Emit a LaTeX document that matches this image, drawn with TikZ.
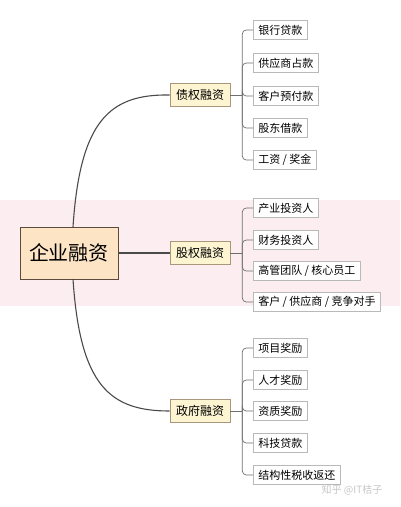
\documentclass[tikz,border=0pt]{standalone}
\usepackage{fontspec}
\setmainfont{Noto Sans CJK SC}
\usetikzlibrary{positioning}
\definecolor{rootfill}{HTML}{FCE4C4}
\definecolor{rootline}{HTML}{5C4A3C}
\definecolor{subfill}{HTML}{FDF4D2}
\definecolor{subline}{HTML}{A8977A}
\definecolor{bandpink}{HTML}{FCEDF0}
\definecolor{linkgray}{HTML}{4A4A4A}

\begin{document}
\begin{tikzpicture}[x=1pt,y=-1pt,
    root node/.style={rectangle,draw=rootline,line width=1pt,fill=rootfill,minimum width=98pt,minimum height=52pt,font=\fontsize{20}{22}\selectfont},
    sub node/.style={rectangle,draw=subline,line width=0.6pt,fill=subfill,minimum width=60pt,minimum height=23pt,inner xsep=5pt,font=\fontsize{12}{14}\selectfont},
    leaf node/.style={rectangle,draw=gray!55,line width=0.5pt,fill=white,anchor=west,minimum height=19pt,inner xsep=5pt,font=\fontsize{11}{13}\selectfont},
    trunk/.style={draw=linkgray,line width=1.1pt},
    branch/.style={draw=linkgray!80,line width=0.7pt,rounded corners=4pt}]

\useasboundingbox (0,0) rectangle (400,507);
\fill[bandpink] (0,200) rectangle (400,306);

% main topic
\node[root node] (qy) at (69,253) {企业融资};

% second level
\node[sub node] (zq) at (200,95)  {债权融资};
\node[sub node] (gq) at (200,253) {股权融资};
\node[sub node] (zf) at (200,411) {政府融资};

\draw[trunk] (73,227) .. controls (80,120) and (110,94) .. (zq.west);
\draw[trunk] (qy.east) -- (gq.west);
\draw[trunk] (73,279) .. controls (80,386) and (110,411) .. (zf.west);

% debt financing
\node[leaf node] (zq1) at (253,30)  {银行贷款};
\node[leaf node] (zq2) at (253,63)  {供应商占款};
\node[leaf node] (zq3) at (253,96)  {客户预付款};
\node[leaf node] (zq4) at (253,128) {股东借款};
\node[leaf node] (zq5) at (253,160) {工资 / 奖金};

% equity financing
\node[leaf node] (gq1) at (253,208) {产业投资人};
\node[leaf node] (gq2) at (253,240) {财务投资人};
\node[leaf node] (gq3) at (253,271) {高管团队 / 核心员工};
\node[leaf node] (gq4) at (253,302) {客户 / 供应商 / 竞争对手};

% government financing
\node[leaf node] (zf1) at (253,348) {项目奖励};
\node[leaf node] (zf2) at (253,380) {人才奖励};
\node[leaf node] (zf3) at (253,411) {资质奖励};
\node[leaf node] (zf4) at (253,443) {科技贷款};
\node[leaf node] (zf5) at (253,475) {结构性税收返还};

\draw[branch] (zq.east) -- ++(12,0) coordinate (zqb);
\draw[branch] (gq.east) -- ++(12,0) coordinate (gqb);
\draw[branch] (zf.east) -- ++(12,0) coordinate (zfb);

\draw[branch] (zqb) |- (zq1.west);
\draw[branch] (zqb) |- (zq2.west);
\draw[branch] (zqb) |- (zq3.west);
\draw[branch] (zqb) |- (zq4.west);
\draw[branch] (zqb) |- (zq5.west);

\draw[branch] (gqb) |- (gq1.west);
\draw[branch] (gqb) |- (gq2.west);
\draw[branch] (gqb) |- (gq3.west);
\draw[branch] (gqb) |- (gq4.west);

\draw[branch] (zfb) |- (zf1.west);
\draw[branch] (zfb) |- (zf2.west);
\draw[branch] (zfb) |- (zf3.west);
\draw[branch] (zfb) |- (zf4.west);
\draw[branch] (zfb) |- (zf5.west);

\node[text=gray!45,font=\fontsize{10}{12}\selectfont] (wm) at (352,490) {知乎 @IT桔子};
\end{tikzpicture}
\end{document}
